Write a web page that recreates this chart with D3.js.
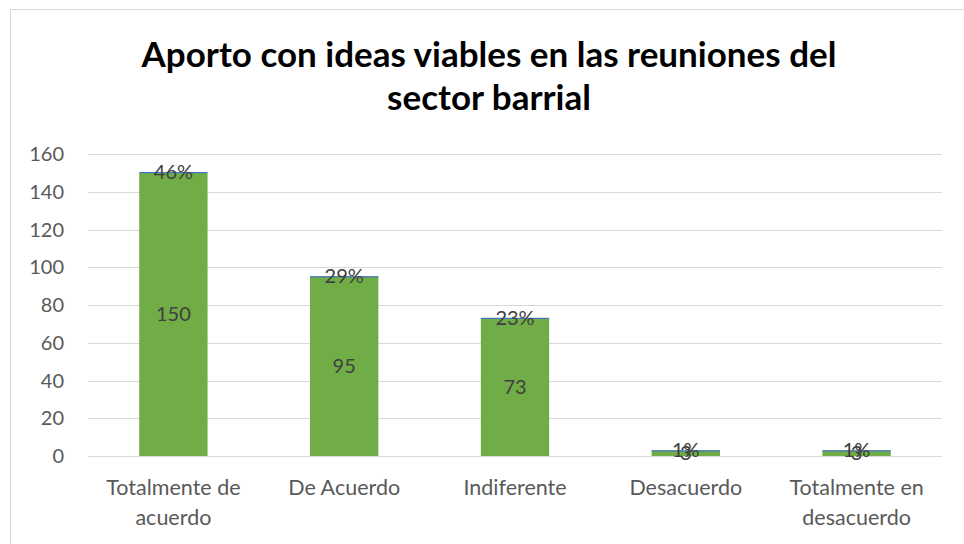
<!DOCTYPE html>
<html><head><meta charset="utf-8">
<script src="https://cdn.jsdelivr.net/npm/d3@7"></script>
<style>body{margin:0;background:#fff}svg{display:block}</style>
</head><body>
<svg id="c" width="964" height="544"></svg>
<script>
const categories = [["Totalmente de","acuerdo"],["De Acuerdo"],["Indiferente"],["Desacuerdo"],["Totalmente en","desacuerdo"]];
const counts = [150, 95, 73, 3, 3];
const shares = [0.46, 0.29, 0.23, 0.01, 0.01];
const percentLabels = ["46%","29%","23%","1%","1%"];
const yTicks = [0,20,40,60,80,100,120,140,160];
const titleLines = ["Aporto con ideas viables en las reuniones del","sector barrial"];

(function(){
const svg = d3.select("#c");
const font = "Lato, 'Open Sans', sans-serif";
svg.append("rect").attr("x",10.5).attr("y",9.5).attr("width",1000).attr("height",600)
  .attr("fill","#fff").attr("stroke","#d9d9d9");

const pl = 88, pr = 942, pt = 154, pb = 456;
const x = d3.scaleBand().domain(d3.range(categories.length)).range([pl,pr]).padding(0);
const y = d3.scaleLinear().domain([0,160]).range([pb,pt]);

svg.append("g").selectAll("line").data(yTicks).join("line")
  .attr("x1",pl).attr("x2",pr).attr("y1",d=>Math.round(y(d))+0.5).attr("y2",d=>Math.round(y(d))+0.5)
  .attr("stroke","#d9d9d9").attr("stroke-width",1);

svg.append("g").selectAll("text").data(yTicks).join("text")
  .attr("x",64).attr("y",d=>y(d)).attr("dy","0.35em").attr("text-anchor","end")
  .attr("font-family",font).attr("font-size",20).attr("fill","#595959").text(d=>d);

const bw = x.bandwidth()*0.4;
const data = counts.map((c,i)=>({i, c, s: shares[i]}));
const stack = d3.stack().keys(["c","s"])(data);
const colors = {c:"#70ad47", s:"#4472c4"};

stack.forEach(layer=>{
  svg.append("g").selectAll("rect").data(layer).join("rect")
    .attr("x",d=>x(d.data.i)+x.bandwidth()/2-bw/2).attr("width",bw)
    .attr("y",d=>y(d[1])).attr("height",d=>Math.max(y(d[0])-y(d[1]), layer.key==="s"?1.2:0))
    .attr("fill",colors[layer.key]);
});

svg.append("g").selectAll("text").data(stack[0]).join("text")
  .attr("x",d=>x(d.data.i)+x.bandwidth()/2).attr("y",d=>y((d[0]+d[1])/2)).attr("dy","0.35em")
  .attr("text-anchor","middle").attr("font-family",font).attr("font-size",20).attr("fill","#404040")
  .text(d=>d.data.c);
svg.append("g").selectAll("text").data(stack[1]).join("text")
  .attr("x",d=>x(d.data.i)+x.bandwidth()/2).attr("y",d=>y((d[0]+d[1])/2)).attr("dy","0.35em")
  .attr("text-anchor","middle").attr("font-family",font).attr("font-size",20).attr("fill","#404040")
  .text((d,i)=>percentLabels[i]);

const cat = svg.append("g").selectAll("text").data(categories).join("text")
  .attr("text-anchor","middle").attr("font-family",font).attr("font-size",21.5).attr("fill","#595959")
  .attr("transform",(d,i)=>`translate(${x(i)+x.bandwidth()/2},495)`);
cat.selectAll("tspan").data(d=>d).join("tspan").attr("x",0).attr("dy",(d,j)=>j?30:0).text(d=>d);

svg.append("text").attr("text-anchor","middle").attr("font-family",font).attr("font-weight","bold")
  .attr("font-size",35).attr("fill","#000")
  .selectAll("tspan").data(titleLines).join("tspan").attr("x",489).attr("y",(d,j)=>67+j*43).text(d=>d);
})();
</script>
</body></html>
